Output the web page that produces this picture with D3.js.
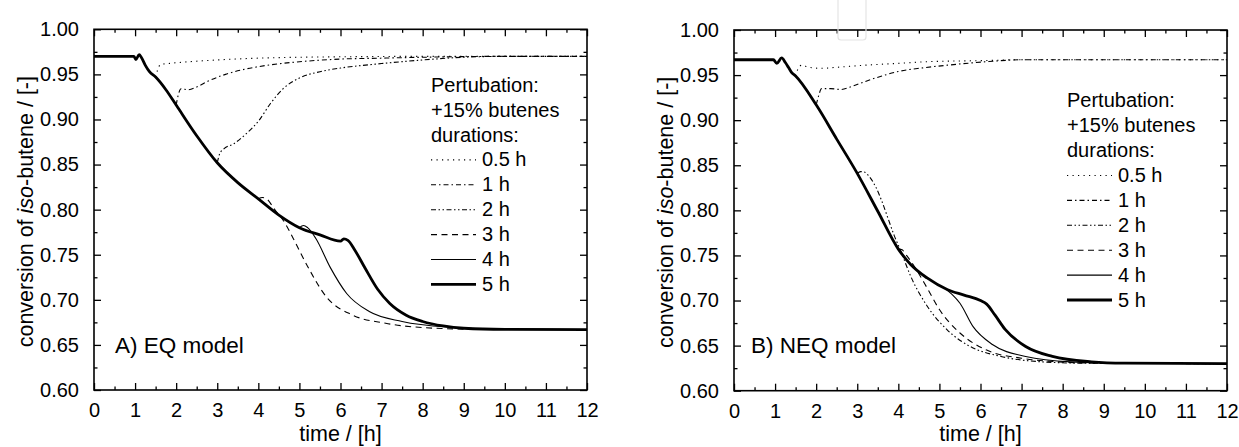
<!DOCTYPE html>
<html>
<head>
<meta charset="utf-8">
<script src="https://cdn.jsdelivr.net/npm/d3@7"></script>
<style>
  html, body { margin: 0; padding: 0; background: #fff; }
  svg { display: block; }
  text { font-family: "Liberation Sans", Arial, Helvetica, sans-serif; fill: #000; }
</style>
</head>
<body>
<svg id="chart" width="1239" height="447"></svg>
<script>
// ---- tick values and labels ----
const timeTicks = [0, 1, 2, 3, 4, 5, 6, 7, 8, 9, 10, 11, 12];
const timeMinorTicks = [0.5, 1.5, 2.5, 3.5, 4.5, 5.5, 6.5, 7.5, 8.5, 9.5, 10.5, 11.5];
const convTicks = [0.60, 0.65, 0.70, 0.75, 0.80, 0.85, 0.90, 0.95, 1.00];
const convMinorTicks = [0.625, 0.675, 0.725, 0.775, 0.825, 0.875, 0.925, 0.975];

// ---- legend text ----
const legendHeader = ["Pertubation:", "+15% butenes", "durations:"];
const durationLabels = ["0.5 h", "1 h", "2 h", "3 h", "4 h", "5 h"];
const panelLabels = ["A) EQ model", "B) NEQ model"];

// ---- EQ model: conversion of iso-butene vs time [h] ----
const eq05 = [[1.5,0.947],[1.55,0.955],[1.62,0.961],[1.8,0.962],[2.3,0.964],[3,0.966],[4,0.968],[5,0.969],[6,0.9695],[8,0.97],[12,0.97]];
const eq1 = [[2.0,0.916],[2.05,0.927],[2.12,0.934],[2.3,0.933],[2.5,0.936],[2.8,0.943],[3.2,0.950],[3.6,0.955],[4.2,0.960],[5,0.964],[6,0.967],[7,0.968],[8,0.969],[10,0.97],[12,0.97]];
const eq2 = [[3.0,0.852],[3.06,0.862],[3.15,0.867],[3.4,0.873],[3.7,0.884],[4.0,0.898],[4.3,0.918],[4.6,0.934],[5.0,0.946],[5.5,0.953],[6.0,0.957],[7,0.962],[8,0.966],[9,0.969],[10,0.97],[12,0.97]];
const eq3 = [[4.0,0.812],[4.1,0.8135],[4.2,0.812],[4.4,0.800],[4.65,0.785],[4.85,0.768],[5.2,0.737],[5.66,0.703],[6.3,0.683],[7.1,0.674],[8.3,0.6685],[9.5,0.6672],[12,0.667]];
const eq4 = [[5.0,0.780],[5.1,0.7825],[5.2,0.780],[5.4,0.768],[5.75,0.736],[6.15,0.707],[6.7,0.687],[7.5,0.676],[8.7,0.6695],[9.5,0.668],[12,0.667]];
const eq5 = [[0,0.97],[0.97,0.97],[1.02,0.9665],[1.1,0.972],[1.15,0.969],[1.25,0.96],[1.35,0.953],[1.5,0.947],[1.75,0.933],[2.0,0.916],[2.5,0.882],[3.0,0.852],[3.5,0.83],[4.0,0.812],[4.5,0.794],[5.0,0.780],[5.5,0.772],[6.0,0.765],[6.08,0.7675],[6.18,0.766],[6.35,0.755],[6.6,0.735],[6.9,0.712],[7.2,0.696],[7.6,0.683],[8.0,0.676],[8.5,0.671],[9.0,0.6685],[10,0.6673],[12,0.667]];

// ---- NEQ model ----
const neq05 = [[1.5,0.949],[1.56,0.957],[1.65,0.961],[1.8,0.959],[2.1,0.9575],[2.6,0.959],[3.2,0.961],[4,0.963],[4.8,0.965],[6,0.966],[7,0.967],[12,0.967]];
const neq1 = [[2.0,0.917],[2.06,0.927],[2.13,0.935],[2.35,0.935],[2.6,0.934],[2.9,0.938],[3.2,0.943],[3.6,0.949],[4.0,0.954],[4.6,0.958],[5.2,0.961],[6.2,0.965],[7,0.967],[12,0.967]];
const neq2 = [[3.0,0.841],[3.08,0.843],[3.17,0.8425],[3.3,0.837],[3.45,0.826],[3.6,0.81],[3.75,0.791],[3.9,0.772],[4.05,0.756],[4.3,0.727],[4.7,0.694],[5.2,0.667],[5.75,0.649],[6.5,0.638],[7.5,0.632],[8.5,0.6305],[12,0.63]];
const neq3 = [[4.0,0.757],[4.08,0.7565],[4.2,0.750],[4.4,0.737],[4.7,0.714],[5.0,0.690],[5.5,0.664],[6.15,0.645],[7.0,0.636],[7.9,0.632],[9,0.6305],[12,0.63]];
const neq4 = [[5.15,0.713],[5.3,0.707],[5.5,0.697],[5.82,0.671],[6.3,0.651],[7.1,0.638],[8.2,0.632],[9.5,0.6305],[12,0.63]];
const neq5 = [[0,0.967],[0.96,0.967],[1.04,0.963],[1.16,0.969],[1.25,0.964],[1.32,0.959],[1.4,0.953],[1.5,0.949],[2.0,0.917],[2.5,0.879],[3.0,0.841],[3.5,0.799],[4.0,0.757],[4.3,0.740],[4.7,0.725],[5.2,0.712],[5.6,0.706],[6.0,0.700],[6.15,0.696],[6.35,0.684],[6.6,0.668],[7.1,0.649],[7.75,0.638],[8.7,0.632],[9.5,0.6305],[12,0.63]];

// line style per duration (0.5 h ... 5 h)
const styles = [
  { dash: "1.2,4.3", width: 1.1 },
  { dash: "5,3,1.5,3", width: 1.1 },
  { dash: "5,2.5,1.5,2.5,1.5,2.5", width: 1.1 },
  { dash: "6,4.5", width: 1.1 },
  { dash: null, width: 1.1 },
  { dash: null, width: 2.8 }
];

const svg = d3.select("#chart");

const panels = [
  { id: "eq",  left: 94,  right: 587,  top: 29.3, bottom: 390,   series: [eq05, eq1, eq2, eq3, eq4, eq5],
    label: panelLabels[0], labelX: 115, legendX: 431, legendY0: 91.7, titleX: 33 },
  { id: "neq", left: 734, right: 1227, top: 30,   bottom: 390.7, series: [neq05, neq1, neq2, neq3, neq4, neq5],
    label: panelLabels[1], labelX: 751, legendX: 1067, legendY0: 107.3, titleX: 673 }
];

panels.forEach(p => {
  const x = d3.scaleLinear().domain([0, 12]).range([p.left, p.right]);
  const y = d3.scaleLinear().domain([0.6, 1.0]).range([p.bottom, p.top]);
  const g = svg.append("g");

  // clip region for curves
  g.append("clipPath").attr("id", "clip-" + p.id)
    .append("rect").attr("x", p.left).attr("y", p.top)
    .attr("width", p.right - p.left).attr("height", p.bottom - p.top);

  const line = d3.line().x(d => x(d[0])).y(d => y(d[1])).curve(d3.curveMonotoneX);

  const curves = g.append("g").attr("clip-path", `url(#clip-${p.id})`);
  p.series.forEach((s, i) => {
    curves.append("path")
      .attr("d", line(s))
      .attr("fill", "none")
      .attr("stroke", "#000")
      .attr("stroke-width", styles[i].width)
      .attr("stroke-dasharray", styles[i].dash)
      .attr("stroke-linejoin", "round");
  });

  // axes: ticks point inward on all four sides
  const fmtY = d3.format(".2f");
  const axes = [
    { ax: d3.axisBottom(x).tickValues(timeTicks).tickSize(-7).tickPadding(13).tickFormat(d3.format("d")), tr: `translate(0,${p.bottom})` },
    { ax: d3.axisBottom(x).tickValues(timeMinorTicks).tickSize(-3.5).tickFormat(""), tr: `translate(0,${p.bottom})` },
    { ax: d3.axisTop(x).tickValues(timeTicks).tickSize(-7).tickFormat(""), tr: `translate(0,${p.top})` },
    { ax: d3.axisTop(x).tickValues(timeMinorTicks).tickSize(-3.5).tickFormat(""), tr: `translate(0,${p.top})` },
    { ax: d3.axisLeft(y).tickValues(convTicks).tickSize(-7).tickPadding(15).tickFormat(fmtY), tr: `translate(${p.left},0)` },
    { ax: d3.axisLeft(y).tickValues(convMinorTicks).tickSize(-3.5).tickFormat(""), tr: `translate(${p.left},0)` },
    { ax: d3.axisRight(y).tickValues(convTicks).tickSize(-7).tickFormat(""), tr: `translate(${p.right},0)` },
    { ax: d3.axisRight(y).tickValues(convMinorTicks).tickSize(-3.5).tickFormat(""), tr: `translate(${p.right},0)` }
  ];
  axes.forEach(a => {
    const ag = g.append("g").attr("transform", a.tr).call(a.ax);
    ag.select(".domain").remove();
    ag.selectAll(".tick line").attr("stroke", "#000").attr("stroke-width", 1.3);
    ag.selectAll(".tick text").attr("font-size", 20).attr("fill", "#000")
      .attr("font-family", '"Liberation Sans", Arial, sans-serif');
  });

  // frame
  g.append("rect")
    .attr("x", p.left).attr("y", p.top)
    .attr("width", p.right - p.left).attr("height", p.bottom - p.top)
    .attr("fill", "none").attr("stroke", "#000").attr("stroke-width", 1.6);

  // axis titles
  g.append("text")
    .attr("x", (p.left + p.right) / 2).attr("y", 441)
    .attr("text-anchor", "middle").attr("font-size", 21.5)
    .text("time / [h]");

  const yt = g.append("text")
    .attr("transform", `translate(${p.titleX},${(p.top + p.bottom) / 2 + 2}) rotate(-90)`)
    .attr("text-anchor", "middle").attr("font-size", 21.5);
  yt.append("tspan").text("conversion of ");
  yt.append("tspan").attr("font-style", "italic").text("iso");
  yt.append("tspan").text("-butene / [-]");

  // panel label
  g.append("text")
    .attr("x", p.labelX).attr("y", 353.3)
    .attr("font-size", 22.5)
    .text(p.label);

  // legend
  const step = 24.9;
  legendHeader.forEach((t, i) => {
    g.append("text").attr("x", p.legendX).attr("y", p.legendY0 + i * step)
      .attr("font-size", 20).text(t);
  });
  durationLabels.forEach((t, i) => {
    const by = p.legendY0 + (i + 3) * step;
    g.append("line")
      .attr("x1", p.legendX).attr("x2", p.legendX + 45)
      .attr("y1", by - 6.5).attr("y2", by - 6.5)
      .attr("stroke", "#000")
      .attr("stroke-width", styles[i].width)
      .attr("stroke-dasharray", styles[i].dash);
    g.append("text").attr("x", p.legendX + 51).attr("y", by)
      .attr("font-size", 20).text(t);
  });
});

// faint outline at the top of the right panel
svg.append("rect")
  .attr("x", 838).attr("y", -6).attr("width", 28).attr("height", 46).attr("rx", 3)
  .attr("fill", "none").attr("stroke", "#e4e4e4").attr("stroke-width", 1.2);
</script>
</body>
</html>
